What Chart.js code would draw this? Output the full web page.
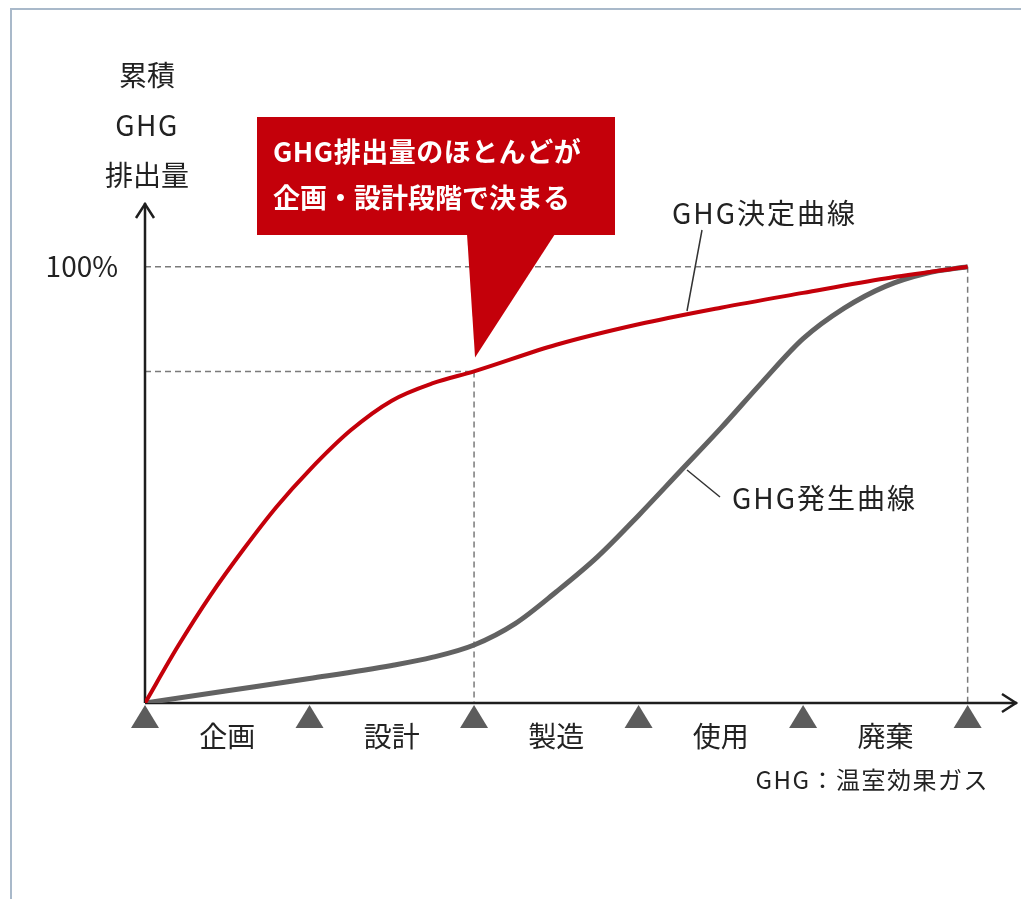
<!DOCTYPE html>
<html lang="ja">
<head>
<meta charset="utf-8">
<title>GHG決定曲線と発生曲線</title>
<script src="https://cdn.jsdelivr.net/npm/chart.js@4"></script>
<style>
  html, body { margin: 0; padding: 0; background: #fff; }
  #wrap { position: relative; width: 1021px; height: 899px; }
  #frame {
    position: absolute; left: 10px; top: 8px; right: -4px; bottom: -4px;
    border-top: 2px solid #a9b9ca; border-left: 2px solid #a9b9ca;
  }
  canvas { position: absolute; left: 0; top: 0; }
</style>
</head>
<body>
<div id="wrap">
  <div id="frame"></div>
  <canvas id="chart"></canvas>
</div>
<script>
// Life-cycle phases and their boundaries on the x axis
const phaseLabels = ['企画', '設計', '製造', '使用', '廃棄'];
const phaseBounds = [0, 1, 2, 3, 4, 5];

// GHG決定曲線 (cumulative share of emissions already decided, %)
const decisionX = [0, 0.2, 0.4, 0.6, 0.8, 1.0, 1.25, 1.5, 1.75, 2.0, 2.5, 3.0, 3.5, 4.0, 4.5, 5.0];
const decisionY = [0, 13, 24.8, 35.3, 45, 53.4, 62.5, 69.3, 73.3, 76, 82.1, 86.8, 90.6, 94.0, 97.3, 100];

// GHG発生曲線 (cumulative share of emissions actually emitted, %)
const emissionX = [0, 0.5, 1, 1.5, 1.75, 2, 2.25, 2.5, 2.75, 3, 3.25, 3.5, 3.75, 4, 4.25, 4.5, 4.75, 5];
const emissionY = [0, 2.8, 5.6, 8.6, 10.5, 13.3, 18.2, 25.5, 33.5, 43, 53, 63, 73.5, 83.5, 90.5, 95.5, 98.5, 100];

const yTickLabel = '100%';
const axisTitle = ['累積', 'GHG', '排出量'];
const calloutLines = ['GHG排出量のほとんどが', '企画・設計段階で決まる'];
const footnote = 'GHG：温室効果ガス';

const RED = '#c4000a';
const GRAY = '#626262';
const FONT = '"Noto Sans CJK JP", "Noto Sans", sans-serif';

const toPoints = (xs, ys) => xs.map((x, i) => ({ x: x, y: ys[i] }));

function dashed(ctx, x1, y1, x2, y2) {
    ctx.save();
    ctx.strokeStyle = '#7a7a7a';
    ctx.lineWidth = 1.5;
    ctx.setLineDash([6, 4]);
    ctx.beginPath();
    ctx.moveTo(x1, y1);
    ctx.lineTo(x2, y2);
    ctx.stroke();
    ctx.restore();
}

function text(ctx, str, x, y, size, opts) {
    opts = opts || {};
    ctx.save();
    ctx.font = (opts.bold ? 'bold ' : '') + size + 'px ' + FONT;
    ctx.fillStyle = opts.color || '#222';
    ctx.textAlign = opts.align || 'center';
    ctx.textBaseline = 'middle';
    ctx.letterSpacing = (opts.spacing || 0) + 'px';
    ctx.fillText(str, x, y);
    ctx.restore();
}

// Axes, reference lines, phase markers and annotations
const diagramPlugin = {
    id: 'diagram',
    beforeDatasetsDraw(chart) {
        const ctx = chart.ctx;
        const xs = chart.scales.x, ys = chart.scales.y;
        const x0 = xs.getPixelForValue(0), y0 = ys.getPixelForValue(0);
        const xEnd = xs.getPixelForValue(phaseBounds[phaseBounds.length - 1]);
        const yFull = ys.getPixelForValue(100);

        // 100% guide lines
        dashed(ctx, x0, yFull, xEnd, yFull);
        dashed(ctx, xEnd, yFull, xEnd, y0);

        // level reached by the decision curve at the end of 設計
        const idx = decisionX.indexOf(2);
        const xd = xs.getPixelForValue(decisionX[idx]);
        const yd = ys.getPixelForValue(decisionY[idx]);
        dashed(ctx, x0, yd, xd, yd);
        dashed(ctx, xd, yd, xd, y0);

        // axes with open arrow heads
        const xMax = xs.right, yMax = ys.top;
        ctx.save();
        ctx.strokeStyle = '#1e1e1e';
        ctx.lineWidth = 2.5;
        ctx.beginPath();
        ctx.moveTo(x0, y0);
        ctx.lineTo(x0, yMax);
        ctx.moveTo(x0, y0);
        ctx.lineTo(xMax, y0);
        ctx.stroke();
        ctx.beginPath();
        ctx.moveTo(x0 - 9, yMax + 15);
        ctx.lineTo(x0, yMax + 1);
        ctx.lineTo(x0 + 9, yMax + 15);
        ctx.moveTo(xMax - 15, y0 - 9);
        ctx.lineTo(xMax - 1, y0);
        ctx.lineTo(xMax - 15, y0 + 9);
        ctx.stroke();
        ctx.restore();
    },
    afterDatasetsDraw(chart) {
        const ctx = chart.ctx;
        const xs = chart.scales.x, ys = chart.scales.y;
        const x0 = xs.getPixelForValue(0), y0 = ys.getPixelForValue(0);

        // phase boundary markers
        ctx.save();
        ctx.fillStyle = '#5c5c5c';
        phaseBounds.forEach(b => {
            const px = xs.getPixelForValue(b);
            ctx.beginPath();
            ctx.moveTo(px, y0 + 2);
            ctx.lineTo(px + 14, y0 + 25);
            ctx.lineTo(px - 14, y0 + 25);
            ctx.closePath();
            ctx.fill();
        });
        ctx.restore();

        // phase names between markers
        phaseLabels.forEach((name, i) => {
            const cx = (xs.getPixelForValue(phaseBounds[i]) + xs.getPixelForValue(phaseBounds[i + 1])) / 2;
            text(ctx, name, cx, y0 + 33, 28);
        });

        // y axis title and tick
        axisTitle.forEach((t, i) => text(ctx, t, x0 + 2, 75 + i * 50, 28, { spacing: t === 'GHG' ? 1.5 : 0 }));
        text(ctx, yTickLabel, x0 - 27, ys.getPixelForValue(100), 28, { align: 'right' });

        // curve names with leader lines
        ctx.save();
        ctx.strokeStyle = '#333';
        ctx.lineWidth = 1.5;
        ctx.beginPath();
        ctx.moveTo(702, 230);
        ctx.lineTo(687, 311);
        ctx.moveTo(687, 470);
        ctx.lineTo(720, 497);
        ctx.stroke();
        ctx.restore();
        text(ctx, 'GHG決定曲線', 672, 213, 28, { align: 'left', spacing: 2 });
        text(ctx, 'GHG発生曲線', 732, 498, 28, { align: 'left', spacing: 2 });

        // callout pointing at the end of 設計
        const idx = decisionX.indexOf(2);
        const ax = xs.getPixelForValue(decisionX[idx]) + 1;
        const ay = ys.getPixelForValue(decisionY[idx]) - 14;
        ctx.save();
        ctx.fillStyle = RED;
        ctx.fillRect(257, 117, 358, 118);
        ctx.beginPath();
        ctx.moveTo(467, 234);
        ctx.lineTo(555, 234);
        ctx.lineTo(ax, ay);
        ctx.closePath();
        ctx.fill();
        ctx.restore();
        text(ctx, calloutLines[0], 273, 152, 27, { align: 'left', bold: true, color: '#fff', spacing: 0.5 });
        text(ctx, calloutLines[1], 273, 198, 27, { align: 'left', bold: true, color: '#fff', spacing: 0 });

        // footnote
        text(ctx, footnote, 989, 780, 24, { align: 'right', spacing: 1.5 });
    }
};

const ctx = document.getElementById('chart').getContext('2d');
new Chart(ctx, {
    type: 'line',
    data: {
        datasets: [{
            label: 'GHG決定曲線',
            data: toPoints(decisionX, decisionY),
            borderColor: RED,
            borderWidth: 4,
            cubicInterpolationMode: 'monotone',
            pointRadius: 0,
            fill: false
        }, {
            label: 'GHG発生曲線',
            data: toPoints(emissionX, emissionY),
            borderColor: GRAY,
            borderWidth: 5,
            cubicInterpolationMode: 'monotone',
            pointRadius: 0,
            fill: false
        }]
    },
    options: {
        responsive: true,
        maintainAspectRatio: false,
        animation: false,
        layout: {
            padding: { left: 145, right: 4, top: 203, bottom: 196 }
        },
        scales: {
            x: { type: 'linear', min: 0, max: 5.3, display: false },
            y: { min: 0, max: 114.6, display: false }
        },
        plugins: {
            legend: { display: false },
            tooltip: { enabled: false }
        }
    },
    plugins: [diagramPlugin]
});
</script>
</body>
</html>
